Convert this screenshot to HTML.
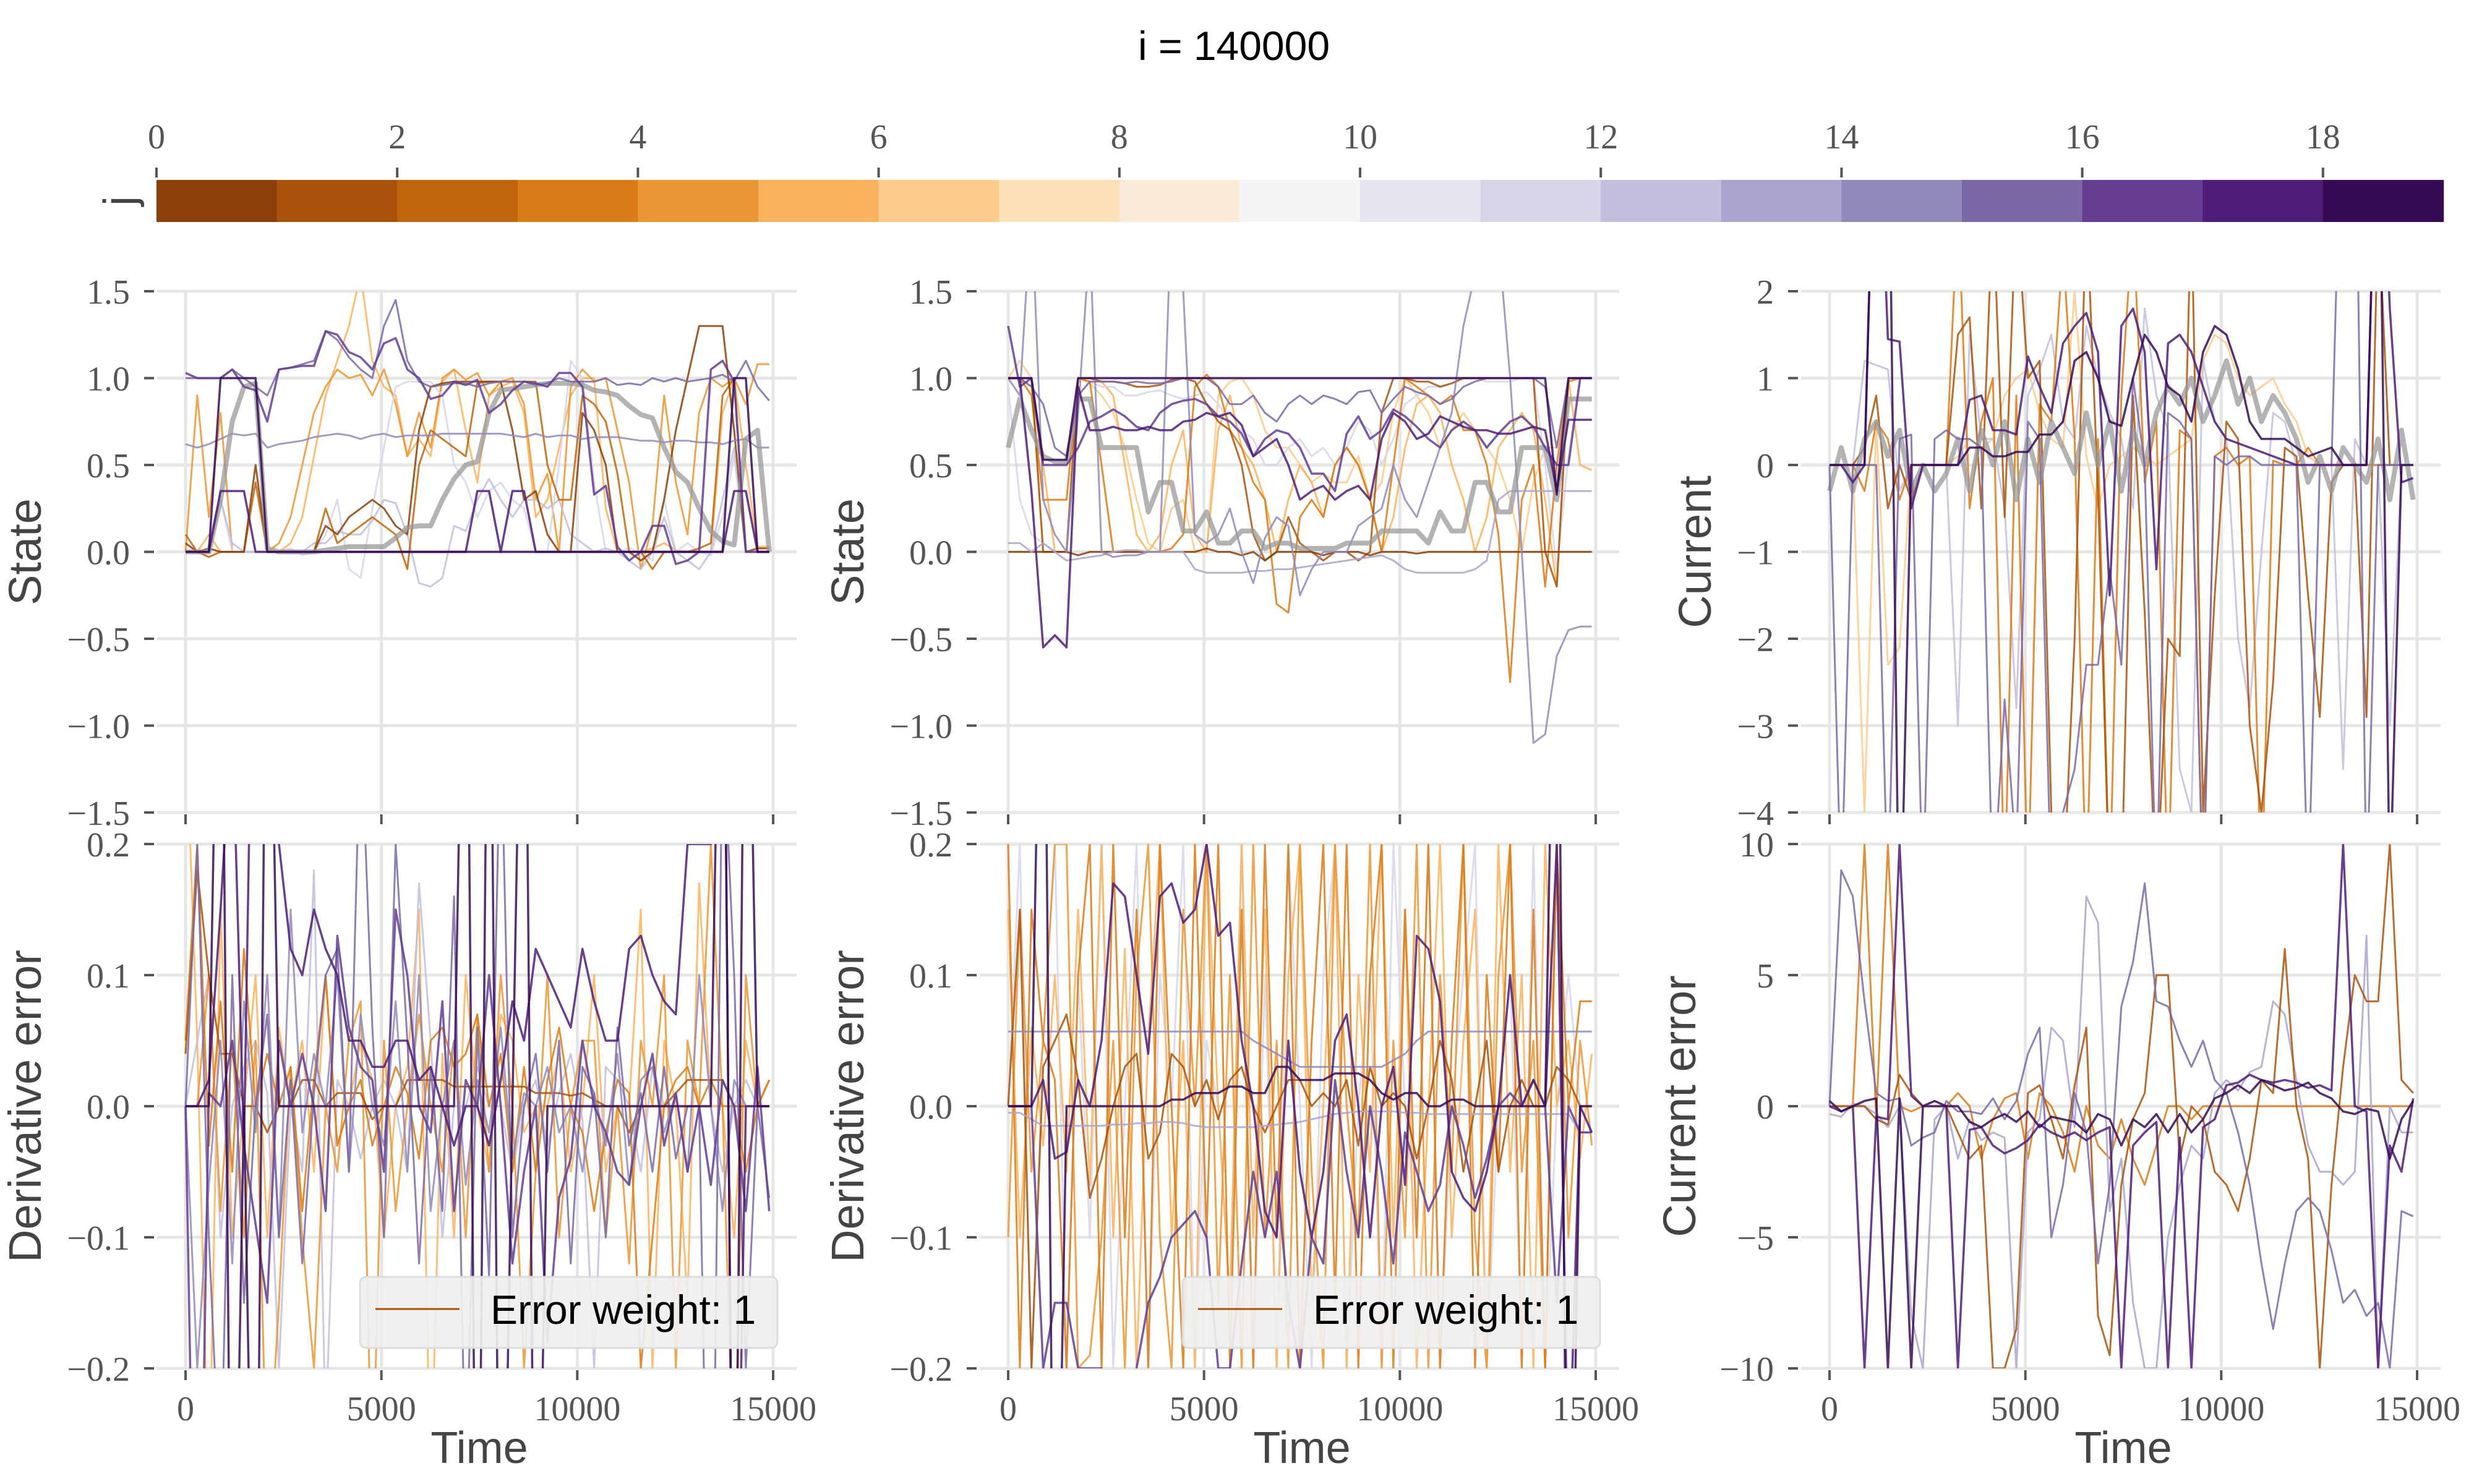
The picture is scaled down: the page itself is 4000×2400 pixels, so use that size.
<!DOCTYPE html>
<html><head><meta charset="utf-8"><style>
html,body{margin:0;padding:0;background:#fff;width:4000px;height:2400px;overflow:hidden;}
svg{display:block;}
</style></head><body>
<svg id="fig" xmlns="http://www.w3.org/2000/svg" width="4000" height="2400" viewBox="0 0 4000 2400" overflow="hidden">
<rect width="4000" height="2400" fill="#fff"/>
<text x="1995" y="97" font-family="Liberation Sans, sans-serif" font-size="66" text-anchor="middle" fill="#000">i = 140000</text>
<g id="cbar"></g>
<g id="panels"></g>
</svg>
<script>
// ---- colorbar data ----
const cbarValues = [0,1,2,3,4,5,6,7,8,9,10,11,12,13,14,15,16,17,18];
const cbarTickLabels = [0,2,4,6,8,10,12,14,16,18];
const jColors = ['#8B4009','#A9530A','#BF650C','#D97B17','#EA9634','#F9B35E','#FDCB8C','#FDE0B6','#FAEBD8','#F5F5F5','#E6E5F0','#D7D6E9','#C3BEDD','#ABA4CD','#9289BA','#7B68A6','#633E93','#4F1C78','#370A56'];
const xTickValues = [0,5000,10000,15000];

// ---- Panel 1: State (left) ----
const p1_gray = [0,0,0,0.3,0.75,0.95,0.97,0.02,0,0,0,0,0.01,0.02,0.03,0.03,0.03,0.03,0.08,0.14,0.15,0.15,0.3,0.42,0.5,0.52,0.8,0.93,0.94,0.95,0.96,0.97,0.97,0.97,0.96,0.93,0.92,0.9,0.84,0.79,0.77,0.6,0.46,0.4,0.25,0.12,0.06,0.04,0.65,0.7,0];
const p1_j18 = [0,0,0,1,1,1,1,0,0,0,0,0,0,0,0,0,0,0,0,0,0,0,0,0,0,0,0,0,0,0,0,0,0,0,0,0,0,0,0,0,0,0,0,0,0,0,0,1,1,0,0];
const p1_j17 = [0,0,0,0.35,0.35,0.35,0,0,0,0,0,0,0,0,0,0,0,0,0,0,0,0,0,0,0,0.35,0.35,0,0.35,0.35,0,0,0,0,0,0,0,0,0,0,0,0,0,0,0,0,0,0.35,0.35,0,0];
const p1_j16 = [1.03,1.0,1.0,1.0,1.05,0.95,0.93,0.75,1.05,1.06,1.07,1.07,1.27,1.25,1.15,1.12,1.05,1.2,1.23,1.05,1.0,0.88,0.9,0.98,0.96,0.99,0.8,0.85,0.93,0.98,0.97,0.95,1.03,1.03,0.95,0.33,0.38,0.03,-0.05,0.0,0.15,0.15,-0.07,-0.05,0.0,1.05,1.1,0.98,0.0,0.0,0.0];
const p1_j15 = [1.0,1.0,1.0,1.0,1.05,1.0,0.95,0.9,1.05,1.06,1.08,1.1,1.27,1.22,1.12,1.05,1.0,1.3,1.45,1.1,0.98,0.95,0.96,0.97,0.97,0.95,0.97,0.98,0.98,0.98,0.96,0.97,1.0,0.98,0.98,0.98,1.0,0.96,0.97,0.96,1.0,0.98,1.0,0.98,0.99,1.0,1.02,0.98,1.1,0.95,0.87];
const p1_j14 = [0.62,0.6,0.62,0.65,0.68,0.67,0.68,0.6,0.62,0.63,0.64,0.66,0.67,0.68,0.67,0.65,0.67,0.68,0.66,0.67,0.67,0.67,0.68,0.68,0.68,0.68,0.68,0.68,0.67,0.66,0.68,0.66,0.67,0.67,0.65,0.66,0.66,0.66,0.65,0.64,0.64,0.63,0.64,0.64,0.63,0.63,0.62,0.64,0.65,0.6,0.6];
const p1_j0 = [0.05,0.0,0.02,0.0,0.0,0.0,0.5,0.0,0.0,0.0,0.0,0.0,0.15,0.1,0.2,0.25,0.3,0.25,0.15,0.1,0.7,0.95,0.97,0.98,0.98,0.98,0.98,0.98,0.7,0.3,0.35,0.1,0.0,0.0,0.8,0.7,0.5,0.0,0.0,-0.05,0.0,0.3,0.7,1.0,1.3,1.3,1.3,0.7,0.0,0.02,0.02];
const p1_j2 = [0.1,0.0,-0.03,0.0,0.0,0.0,0.4,0.0,0.0,0.0,0.0,0.0,0.25,0.05,0.1,0.15,0.2,0.15,0.1,-0.1,0.5,0.7,0.65,0.6,0.55,0.97,0.98,0.98,0.98,0.98,0.98,0.5,0.3,0.3,0.9,0.85,0.75,0.45,0.0,0.0,-0.1,0.0,0.0,0.0,0.02,0.05,0.9,1.0,0.0,0.0,0.0];
const p1_j4 = [0.0,0.9,0.2,0.8,0.0,0.0,0.0,0.0,0.05,0.2,0.5,0.8,0.95,1.05,1.0,1.02,0.9,1.05,0.85,0.55,0.8,0.6,1.0,1.05,0.99,1.03,0.9,0.98,1.0,0.85,0.3,0.45,0.0,0.95,1.05,0.98,1.0,0.7,0.4,-0.1,0.15,0.9,0.4,0.1,0.8,1.0,0.95,1.0,0.85,1.08,1.08];
const p1_j5 = [0.0,0.0,0.1,0.0,0.0,0.0,0.0,0.0,0.0,0.05,0.2,0.55,0.9,1.1,1.3,1.6,1.1,0.95,0.9,0.55,0.65,0.55,0.98,1.05,0.7,0.4,0.9,0.95,0.98,0.8,0.2,0.3,0.6,0.9,1.0,1.0,0.25,0.0,0.0,0.0,0.02,0.05,0.01,0.0,0.0,0.0,0.8,1.0,0.5,0.03,0.03];
const p1_j11 = [0.0,0.0,0.02,0.3,0.0,0.0,0.0,0.0,0.0,0.02,-0.02,0.0,0.1,0.3,-0.1,-0.15,0.25,0.6,0.95,0.98,0.98,0.98,0.9,0.5,0.4,0.2,0.35,0.4,0.3,0.25,0.0,0.0,0.5,1.1,1.0,0.4,0.0,0.0,0.02,0.0,-0.05,0.3,0.0,0.05,0.0,-0.02,0.2,0.55,0.0,0.0,0.0];
const p1_j12 = [0,0,0,0.3,0.05,0,0,0,0,0,0,0.05,0.05,0.12,0.1,0.1,0.18,0.3,0.28,0.1,-0.18,-0.2,-0.15,0.15,0.12,0.3,0.42,0.3,0.2,0.3,0.3,0.25,0.3,0.1,0.05,0,0.02,0.0,-0.05,-0.1,0,0.2,0,-0.05,-0.1,0,0.3,0.6,0,0,0];

// ---- Panel 2: State (middle) ----
const p2_gray = [0.6,0.88,0.7,0.55,0.52,0.52,0.88,0.88,0.6,0.6,0.6,0.6,0.23,0.4,0.4,0.12,0.12,0.23,0.05,0.05,0.12,0.12,0.02,0.05,0.05,0.02,0.02,0.02,0.02,0.05,0.05,0.05,0.12,0.12,0.12,0.12,0.05,0.23,0.12,0.12,0.4,0.4,0.23,0.23,0.6,0.6,0.6,0.3,0.88,0.88,0.88];
const p2_j18 = [1,1,1,0.53,0.53,0.53,1,1,1,1,1,1,1,1,1,1,1,1,1,1,1,1,1,1,1,1,1,1,1,1,1,1,1,1,1,1,1,1,1,1,1,1,1,1,1,1,1,0.33,1,1,1];
const p2_j17 = [1.0,1.0,0.35,-0.55,-0.48,-0.55,0.95,0.7,0.7,0.72,0.7,0.7,0.72,0.7,0.7,0.75,0.76,0.8,0.78,0.8,0.73,0.55,0.6,0.65,0.5,0.3,0.35,0.38,0.3,0.35,0.38,0.3,0.65,0.8,0.75,0.65,0.68,0.78,0.75,0.72,0.7,0.7,0.68,0.68,0.7,0.72,0.7,0.35,0.76,0.76,0.76];
const p2_j16 = [1.3,0.95,1.0,0.5,0.5,0.5,0.6,0.75,0.78,0.82,0.78,0.72,0.7,0.8,0.85,0.87,0.88,0.85,0.78,0.75,0.68,0.55,0.65,0.7,0.68,0.6,0.45,0.45,0.35,0.68,0.78,0.65,0.7,0.82,0.78,0.72,0.65,0.6,0.7,0.75,0.7,0.6,0.68,0.75,0.78,0.72,0.6,0.5,0.5,1.0,1.0];
const p2_j15 = [1.0,1.0,0.95,0.85,0.6,0.55,0.9,0.98,0.98,0.98,0.97,0.98,0.97,0.97,0.98,1.0,1.0,1.0,0.95,0.85,0.85,0.9,0.8,0.75,0.85,0.9,0.85,0.9,0.88,0.85,0.92,0.93,0.8,0.88,0.95,0.92,0.9,0.85,0.88,0.95,0.98,1.0,1.0,1.0,1.0,1.0,0.95,0.6,1.0,1.0,1.0];
const p2_j14 = [1.0,0.9,2.0,0.3,0.1,0.0,0.8,1.8,0.0,-0.03,-0.02,-0.02,0.0,0.0,2.0,1.5,0.1,0.05,0.1,0.25,0.0,-0.18,0.08,0.2,0.15,-0.25,-0.1,0.0,0.0,0.0,0.15,0.2,0.25,0.5,0.3,0.2,0.4,0.6,0.8,1.3,1.6,1.9,1.8,1.0,0.0,-1.1,-1.05,-0.6,-0.45,-0.43,-0.43];
const p2_j13 = [0.05,0.05,0.0,0.05,0.0,-0.05,-0.04,-0.03,-0.02,0,0.01,0.01,0.0,0.0,0.0,0.0,-0.1,-0.12,-0.12,-0.12,-0.12,-0.11,-0.11,-0.1,-0.1,-0.09,-0.08,-0.07,-0.06,-0.05,-0.04,-0.03,-0.02,-0.05,-0.1,-0.12,-0.12,-0.12,-0.12,-0.12,-0.1,-0.05,0.3,0.35,0.35,0.35,0.35,0.35,0.35,0.35,0.35];
const p2_j0 = [0.0,0.0,0.0,0.0,0.0,0.0,-0.02,0.0,0.0,0.0,0.0,0.0,0.0,0.0,0.0,0.0,0.0,0.02,0.0,0.0,-0.02,0.0,-0.05,0.0,0.0,0.0,0.0,-0.02,0.0,0.0,0.0,-0.02,0.0,0.0,0.0,-0.01,0.0,0.0,0.0,0.0,0.0,0.0,0.0,0.0,0.0,0.0,0.0,0.0,0.0,0.0,0.0];
const p2_j1 = [1.0,1.0,1.0,0.0,0.0,0.0,1.0,1.0,0.98,0.98,0.97,0.95,0.95,0.96,0.99,1.0,0.98,0.85,0.75,0.7,0.5,0.1,-0.05,0.0,0.2,0.05,0.0,-0.05,0.0,0.0,-0.05,0.0,0.8,1.0,1.0,0.98,0.98,0.95,0.97,1.0,1.0,1.0,1.0,1.0,1.0,1.0,0.0,-0.2,1.0,1.0,1.0];
const p2_j3 = [1.0,1.0,0.9,0.3,0.3,0.3,1.0,0.98,0.5,0.0,0.0,0.0,0.0,0.0,0.02,0.1,0.95,1.02,0.95,0.7,0.6,0.4,0.3,-0.3,-0.35,0.2,0.3,0.2,0.5,0.6,0.5,0.3,0.0,0.5,1.0,0.95,0.9,0.85,0.9,0.7,0.7,0.5,0.1,-0.75,0.3,0.5,-0.2,0.5,0.98,1.0,1.0];
const p2_j5 = [1.0,1.0,0.95,0.5,0.0,0.0,1.0,1.0,0.98,0.9,0.5,0.1,0.0,0.1,0.5,0.7,0.1,0.0,0.7,0.9,0.6,0.5,0.3,0.0,0.3,0.5,0.4,0.2,0.5,0.6,0.5,0.3,0.0,0.2,0.6,0.85,0.9,0.8,0.5,0.3,0.0,0.2,0.6,0.7,0.8,0.7,0.3,-0.2,1.0,0.5,0.47];
const p2_j6 = [1.0,1.1,1.0,0.0,0.0,0.0,1.0,0.97,0.9,0.8,0.6,0.3,0.05,0.0,0.25,0.3,0.0,0.0,0.9,0.98,1.0,0.9,0.7,0.6,0.6,0.5,0.4,0.45,0.4,0.4,0.55,0.3,0.4,0.8,1.0,0.9,0.8,0.6,0.7,0.8,0.7,0.6,0.5,0.3,0.0,0.4,0.6,0.6,1.0,1.0,1.0];
const p2_j11 = [0.95,0.3,0.1,0.05,0.0,0.0,0.9,0.98,0.95,0.95,0.9,0.9,0.92,0.93,0.9,0.88,0.9,0.92,0.85,0.75,0.7,0.65,0.5,0.5,0.6,0.65,0.55,0.6,0.5,0.6,0.75,0.7,0.5,0.65,0.85,0.9,0.95,0.95,0.97,1.0,1.0,0.98,0.98,0.98,1.0,1.0,0.5,-0.1,0.55,1.0,1.0];

// ---- Panel 3: Current ----
const p3_gray = [-0.3,0.2,-0.3,0.3,0.5,0.1,0.4,-0.3,0.0,-0.3,-0.1,0.3,-0.3,0.4,0.0,0.5,-0.4,0.3,-0.2,0.5,0.2,-0.1,0.6,0.0,0.5,-0.3,0.4,0.0,0.6,0.9,0.7,1.0,0.5,0.8,1.2,0.7,1.0,0.5,0.8,0.6,0.3,-0.2,0.1,-0.3,0.2,0.0,-0.2,0.3,-0.4,0.4,-0.4];
const p3_j18 = [0,0,0,0,5,5,-6,0,0,0,0,0,0.2,0.2,0.1,0.1,0.15,0.15,0.35,0.35,0.5,1.2,1.3,1.0,0.5,0.45,1.0,1.5,1.3,0.9,0.8,0.5,1.3,1.6,1.5,1.1,0.5,0.3,0.3,0.3,0.2,0.1,0.15,0.2,0,0,0,5,-5,0,0];
const p3_j17 = [0,0,-0.2,0,5,1.45,1.42,-0.5,0,0,0,0,0.75,0.8,0.4,0.4,0.35,1.25,0.9,0.6,1.4,1.6,1.75,1.3,-1.5,1.6,1.8,1.3,-1.2,1.4,1.5,1.3,0.9,0.5,0.3,0.25,0.2,0.15,0.1,0.05,0.0,0.0,0.0,0.0,0,0,0,5,1.8,-0.2,-0.15];
const p3_j15 = [0,-5,0,0,0,-5,0.3,0.35,-5,0.3,0.4,0.3,0.3,0.2,-5,-2.7,-4.5,0.5,0.3,-5,-4,-3.5,-2.3,-2.3,-1.2,-2.3,1.0,0.0,-5,0.6,0.5,0.3,-5,0.1,0.0,0.1,0.1,0.0,0.0,0.0,0.0,-5,0,0,5,5,-5,0,0,0,0];
const p3_j1 = [0,0,0,0.2,0.8,-0.5,0,-0.4,0,0,0,1.5,1.7,-0.5,3,-0.6,3,1.0,1.2,-4,-5,-2,3,-0.3,-5,-5,0.8,-1.7,-5,-2.0,-2.2,3,-4,-1.5,0.5,0.3,-3,-4,-2.5,0.2,0.1,-1.5,-2.9,-0.2,0,0,-2.9,3,0,0,0];
const p3_j3 = [0,0,0,-0.3,0.5,0.3,-0.4,0.0,0,0,0,3,-0.5,0.5,1.0,-5,0.8,-5,0.7,0.5,2.5,0.3,-5,0.3,-5,0.8,2.8,-0.2,0.5,-5,0.4,0.3,-5,0.1,0.2,0.0,0.1,-5,0.05,0.0,0.0,0.2,0.0,0.0,0,0,0,0,0,0,0];
const p3_j6 = [0,0,0,-4,0.5,-2.3,-2.1,0,0,0,0,0.1,0.3,0.2,0.3,0.8,1.0,1.1,0.6,0.3,0.2,2.0,0.1,-0.5,0.0,0.1,0.2,0.1,0.0,0.1,0.2,0.3,1.2,1.5,1.4,1.0,0.8,0.9,1.0,0.7,0.5,0.1,0.0,0.0,0,0,0,0,0,0,0];
const p3_j12 = [0,0,0,1.2,1.15,1.1,-0.3,0,0,0,0,-3,1.5,0.3,0.3,-0.5,-2.8,0.8,1.1,1.5,0.5,0.3,1.6,1.0,0.6,0.3,-0.5,1.8,0.8,0.4,-3.5,-4,1.2,0.5,0.3,-2,-2.8,-1,0.6,0.5,0,0,0,0,-3.5,0.3,0,0,-3,0,0];

// ---- Panel 4: Derivative error (left) ----
const p4_j18 = [0,0,0,0.5,-0.5,0,-0.5,0.5,0,0,0,0,0,0,0,0,0,0,0,0,0,0,0,0,0.5,-0.5,0.5,-0.5,0,0.5,-0.5,0,0,0,0,0,0,0,0,0,0,0,0,0,0,0,0.5,-0.5,0.5,0,0];
const p4_j17 = [0.0,0.0,0.02,0.15,0.3,-0.03,0.5,0.3,0.2,0.12,0.1,0.15,0.12,0.1,0.05,0.05,0.03,0.03,0.05,0.05,0.02,0.03,0.0,-0.03,0.0,0.0,-0.03,0.02,0.08,0.05,0.12,0.1,0.08,0.06,0.12,0.08,0.05,0.05,0.12,0.13,0.1,0.08,0.07,0.2,0.2,0.2,0.5,-0.5,0.0,0.0,0.0];
const p4_j16 = [0.0,-0.5,0.01,0.0,0.05,-0.03,-0.09,-0.15,0.05,0.0,0.04,0.0,-0.08,0.13,0.06,0.03,0.02,-0.05,0.15,0.1,0.0,-0.02,0.08,-0.08,0.02,0.0,0.1,0.0,-0.12,-0.05,0.0,-0.18,-0.07,-0.04,0.05,0.0,-0.02,-0.05,-0.06,0.0,0.04,-0.03,0.01,-0.05,0.0,-0.06,0.02,0.0,-0.08,0.03,-0.08];
const p4_j15 = [0.0,0.2,-0.1,-0.3,0.1,-0.15,0.0,0.07,-0.1,0.02,-0.12,0.01,0.1,0.12,-0.05,0.3,0.06,-0.1,0.2,0.05,-0.12,0.03,-0.08,0.16,-0.3,0.06,-0.13,0.3,-0.1,0.0,0.04,-0.05,0.05,-0.12,0.03,0.01,-0.1,0.06,-0.03,0.01,-0.05,0.03,-0.04,0.0,0.0,-0.5,0.3,0.1,-0.2,0.0,-0.07];
const p4_j14 = [0.0,-0.2,-0.06,0.05,-0.12,0.08,-0.02,0.1,-0.1,0.15,-0.02,0.04,0.0,0.1,-0.05,0.07,0.0,-0.03,0.08,-0.05,0.1,-0.08,0.0,0.05,-0.06,0.02,-0.02,0.06,-0.04,0.01,0.0,0.03,-0.02,0.0,-0.05,0.01,-0.03,0.04,-0.06,0.02,0.03,-0.02,0.01,-0.05,0.1,0.0,-0.08,0.02,0.0,0.0,0.0];
const p4_j12 = [0.0,0.05,0.1,-0.1,0.0,0.03,0.05,0.01,-0.2,0.0,-0.05,0.18,-0.25,0.02,0.0,-0.04,0.0,0.02,0.0,-0.05,0.17,0.05,-0.1,0.0,0.0,0.03,0.0,0.0,-0.05,0.0,0.02,-0.03,0.01,0.04,-0.01,-0.2,0.03,0.02,0.0,-0.05,0.03,0.0,0.0,0.0,0.0,0.0,-0.05,0.0,0.02,0.0,0.0];
const p4_j3 = [0.05,0.2,-0.03,0.08,-0.05,0.12,0.0,0.04,0.0,0.03,-0.08,0.02,0.1,-0.03,0.0,0.02,-0.03,0.0,0.03,0.01,-0.04,0.05,0.06,0.03,0.04,0.07,0.0,0.04,-0.05,0.03,-0.05,0.02,0.06,0.0,-0.02,-0.08,-0.02,0.02,0.01,-0.2,-0.1,0.0,0.02,0.03,0.0,0.02,0.0,0.0,-0.05,0.0,0.02];
const p4_j4 = [0.0,0.0,0.1,-0.08,0.05,-0.1,0.05,-0.3,-0.15,0.03,-0.1,-0.2,0.0,-0.05,0.05,0.08,-0.3,0.05,-0.08,0.0,0.07,0.0,-0.05,0.05,-0.1,0.07,-0.05,0.1,0.0,-0.2,-0.05,0.1,-0.1,0.0,0.05,0.05,-0.1,0.0,-0.12,0.05,0.0,0.1,-0.2,0.05,0.0,0.2,0.0,-0.3,0.1,0.0,0.02];
const p4_j5 = [0.3,0.05,-0.3,0.15,-0.1,0.0,0.1,-0.1,0.06,0.0,0.05,-0.05,0.1,-0.03,0.0,0.05,0.02,-0.1,0.0,0.03,0.15,-0.3,0.04,-0.1,0.1,0.0,-0.05,0.07,0.05,-0.02,0.0,0.0,0.04,-0.05,0.0,0.1,-0.05,0.0,0.0,0.15,-0.2,0.05,0.0,-0.15,0.17,0.0,0.0,-0.1,0.05,0.0,0.0];
const p4_j1 = [0.04,0.18,0.1,0.04,0.04,0.0,0.0,-0.02,0.0,0.0,0.02,0.02,0.0,0.01,0.01,0.01,-0.01,0.0,0.0,0.02,0.02,0.02,0.02,0.015,0.015,0.015,0.015,0.015,0.015,0.015,0.01,0.01,0.01,0.008,0.01,0.005,0.0,0.0,-0.02,0.0,0.0,0.0,0.01,0.02,0.02,0.02,0.02,0.0,0.0,0.0,0.0];

// ---- Panel 5: Derivative error (middle) ----
const p5_j16 = [0.0,0.0,0.0,-0.2,-0.15,-0.15,-0.2,-0.2,-0.2,-0.22,-0.25,-0.2,-0.15,-0.13,-0.1,-0.09,-0.08,-0.1,-0.2,-0.2,-0.12,-0.05,-0.1,-0.05,-0.15,-0.2,-0.1,-0.12,0.02,-0.05,-0.1,0.0,-0.05,-0.12,-0.02,-0.05,-0.08,-0.06,0.0,-0.03,-0.07,-0.04,0.0,0.01,0.0,0.02,0.0,-0.15,0.0,-0.02,-0.02];
const p5_j17 = [0.0,0.0,0.0,0.02,-0.04,-0.035,0.02,0.0,0.05,0.17,0.16,0.1,0.04,0.16,0.17,0.14,0.15,0.2,0.13,0.14,0.05,0.0,-0.08,-0.1,0.05,-0.05,-0.1,-0.05,0.05,0.07,0.0,-0.1,0.0,0.03,-0.06,0.13,0.12,0.08,-0.05,-0.07,-0.08,-0.05,0.0,0.1,0.0,0.02,0.0,0.2,-0.3,0.0,-0.02];
const p5_j18 = [0,0,0,0.5,-0.5,0,0,0,0,0,0,0,0,0.0,0.005,0.005,0.01,0.01,0.01,0.015,0.015,0.01,0.01,0.03,0.03,0.02,0.02,0.02,0.025,0.025,0.025,0.02,0.01,0.005,0.01,0.01,0.0,0.0,0.005,0.005,0.0,0.0,0.0,0.0,0.0,0.0,0.0,0.5,-0.5,0.0,0.0];
const p5_j14 = [0.057,0.057,0.057,0.057,0.057,0.057,0.057,0.057,0.057,0.057,0.057,0.057,0.057,0.057,0.057,0.057,0.057,0.057,0.057,0.057,0.057,0.05,0.045,0.04,0.035,0.03,0.03,0.03,0.03,0.03,0.03,0.03,0.03,0.035,0.04,0.05,0.057,0.057,0.057,0.057,0.057,0.057,0.057,0.057,0.057,0.057,0.057,0.057,0.057,0.057,0.057];
const p5_j13 = [-0.005,-0.005,-0.01,-0.015,-0.015,-0.015,-0.015,-0.015,-0.015,-0.014,-0.014,-0.013,-0.013,-0.012,-0.012,-0.013,-0.015,-0.016,-0.016,-0.016,-0.016,-0.016,-0.015,-0.014,-0.013,-0.012,-0.01,-0.008,-0.006,-0.005,-0.004,-0.004,-0.004,-0.004,-0.005,-0.005,-0.006,-0.006,-0.006,-0.006,-0.006,-0.006,-0.006,-0.006,-0.006,-0.006,-0.006,-0.006,-0.006,-0.02,-0.02];
const p5_j3 = [0.2,-0.2,0.15,0.05,0.02,-0.2,0.1,0.2,-0.2,0.2,-0.1,0.15,-0.2,0.2,0.0,-0.2,0.2,-0.1,0.2,-0.2,0.15,-0.2,0.2,-0.1,0.2,-0.2,0.05,0.2,-0.15,0.2,-0.2,0.1,0.2,-0.2,0.15,-0.1,0.2,-0.2,0.05,0.2,-0.2,0.1,-0.05,0.2,-0.2,0.15,-0.2,0.2,0.0,0.08,0.08];
const p5_j4 = [-0.1,0.15,-0.05,0.05,0.2,0.2,-0.2,-0.19,-0.1,0.05,-0.2,0.1,0.2,-0.1,-0.2,0.15,0.0,0.2,-0.15,0.1,-0.2,0.2,-0.1,0.05,-0.2,0.2,-0.05,-0.2,0.2,0.0,-0.1,0.2,-0.2,0.05,-0.1,0.2,-0.2,0.1,-0.05,0.2,-0.1,-0.2,0.1,0.2,-0.05,0.05,-0.2,0.2,-0.1,0.05,-0.03];
const p5_j5 = [0.15,-0.1,0.06,-0.03,0.1,-0.05,0.15,-0.06,0.2,-0.1,0.12,-0.2,0.05,0.2,-0.1,0.05,-0.2,0.2,0.0,-0.15,0.2,-0.1,0.15,-0.2,0.1,0.2,-0.15,0.0,0.2,-0.2,0.1,-0.05,0.2,-0.1,0.15,-0.2,0.0,0.2,-0.1,0.05,0.15,-0.2,0.2,-0.05,0.1,-0.2,0.2,0.0,0.05,-0.04,0.04];
const p5_j1 = [0.0,0.15,-0.2,0.03,0.05,0.07,0.02,-0.07,-0.04,0.0,0.03,0.04,-0.04,-0.02,0.04,0.03,0.0,0.02,-0.01,0.02,0.03,0.0,-0.02,0.0,0.02,0.02,0.0,0.01,0.0,0.02,-0.03,0.03,0.0,0.01,0.0,-0.04,0.0,0.05,0.02,-0.05,0.0,0.05,-0.05,0.0,0.02,0.0,0.0,0.03,0.02,0.0,0.0];
const p5_j11 = [0.0,0.2,-0.2,0.05,0.2,-0.2,0.1,-0.1,0.2,-0.2,0.0,0.2,-0.2,0.1,0.0,0.2,-0.2,0.05,0.0,-0.15,0.2,-0.2,0.1,-0.2,0.2,0.0,-0.2,0.1,0.2,-0.2,0.0,0.1,-0.2,0.2,0.0,-0.1,0.2,-0.2,0.0,0.1,0.2,-0.2,0.0,0.1,-0.2,0.2,-0.2,0.0,0.1,0.0,0.0];

// ---- Panel 6: Current error ----
const p6_j18 = [0.2,-0.2,0.0,0.2,0.3,-10,0.3,-10,0.0,0.2,0.0,0.0,-0.6,-0.8,-0.5,-0.3,-0.6,-0.2,-0.8,-0.4,-0.5,-0.6,-1.0,-0.3,-0.5,-1.5,-0.5,-0.8,-0.3,-1.0,-0.3,-1.0,-0.5,0.3,0.5,0.8,0.5,1.0,0.8,0.6,0.7,0.9,0.5,0.3,-0.2,-0.3,-0.1,-0.2,-2.0,-0.5,0.2];
const p6_j17 = [0,-0.2,0.0,-10,-0.4,-0.5,10,0.4,0.0,0.0,0.0,-10,-0.9,-0.8,-1.5,-1.8,-1.6,-1.3,-0.7,-1.0,-1.2,-1.0,-1.3,-1.0,-0.8,-10,-1.5,-1.0,-0.6,-10,-1.2,-10,-0.8,-0.5,0.8,0.9,1.2,1.0,0.9,1.0,0.9,0.7,0.8,0.6,10,0.0,-0.2,-10,-1.5,-2.5,0.3];
const p6_j15 = [0.0,9,8,4,0.5,0.2,0.3,-1.5,-1.2,-1.0,0.2,-0.2,-0.2,-0.3,0.3,-0.5,0.2,2.0,3.0,-5.0,-3,0.5,-1.0,-6,-3,3.8,5.5,8.5,4.0,3.8,2.5,1.5,2.5,1.0,0.5,-1.0,-3.0,-6.0,-8.5,-6.0,-4.0,-3.5,-4.0,-5.5,-7.5,-7.0,-8.0,-7.5,-10,-4.0,-4.2];
const p6_j13 = [-0.3,-0.4,0.1,0.0,-0.3,-0.8,0.0,-8,-10,-0.5,0.0,-2,-0.5,-1.3,-1.0,-1.2,-10,-1.0,-0.5,3.0,2.5,-0.8,8,7,-4,-2,-7.5,-10,-10,-5,-3,-1.5,-2.0,0.5,1.0,0.6,1.3,1.5,4.0,3.5,1.0,-1.5,-2.5,-2.5,-3.0,-2.5,6.5,-10,0.0,-1.0,-1.0];
const p6_j1 = [0.0,0.0,0.0,0.0,-0.5,-0.7,1.2,0.5,0.0,0.0,0.0,-1.0,-2.0,-1.5,-10,-10,-8.5,0.5,0.8,-0.5,-2.0,0.8,3.0,-8.0,-9.5,-3.0,-0.5,0.5,5.0,5.0,-2.0,0.0,-0.5,-2.5,-3.0,-4.0,-2.0,1.0,0.5,6.0,0.0,-2.0,-10,-3.0,1.5,5.0,4.0,4.0,10,1.0,0.5];
const p6_j3 = [0,0,0,10,-0.5,10,0.0,-0.2,0,0,0,0.5,0.0,-2.0,-0.5,0.3,0.5,-2.0,0.5,0.0,-1.0,-2.5,0.0,-1.5,-2.0,-0.5,-2.0,-3.0,-1.5,0.0,0.0,-0.5,0,0,0,0,0,0,0,0,0,0,0,0,0,0,0,0,0,0,0];

// ---- layout ----
const NS = 'http://www.w3.org/2000/svg';
const svg = document.getElementById('fig');
function mk(tag, attrs, parent){ const e=document.createElementNS(NS,tag); for(const k in attrs) e.setAttribute(k,attrs[k]); (parent||svg).appendChild(e); return e; }
const sampleTimes = []; for(let k=0;k<51;k++) sampleTimes.push(k*298);

// colorbar
const cb = document.getElementById('cbar');
const cbX = v => 253 + v*194.6;
cbarValues.forEach(v => {
  const r = mk('rect',{x:cbX(v),y:291,width:195.4,height:68,fill:jColors[v]},cb);
  
  
});
cbarTickLabels.forEach(v => {
  const l = mk('line',{x1:cbX(v),x2:cbX(v),y1:271,y2:287,stroke:'#555','stroke-width':4},cb);
  
  
  const t = mk('text',{x:cbX(v),y:240,'text-anchor':'middle','font-family':'Liberation Serif, serif','font-size':56,fill:'#555'},cb);
  t.textContent = v;
  
  
});
const jl = mk('text',{x:0,y:0,transform:'translate(218,325) rotate(-90)','text-anchor':'middle','font-family':'Liberation Sans, sans-serif','font-size':72,fill:'#444'},cb);
jl.textContent='j';



const colX = [300,1630,2958];
const rowY = [[471,1314],[1365,2213]];
const fmtMinus = s => String(s).replace('-','\u2212');

const panels = [
  {col:0,row:0,ymin:-1.5,ymax:1.5,yticks:['-1.5','-1.0','-0.5','0.0','0.5','1.0','1.5'],label:'State',lx:-260,
   series:[[p1_j5,5],[p1_j4,4],[p1_j11,11],[p1_j12,12],[p1_j2,2],[p1_j0,0],[p1_j14,14],[p1_gray,'g'],[p1_j15,15],[p1_j16,16],[p1_j17,17],[p1_j18,18]]},
  {col:1,row:0,ymin:-1.5,ymax:1.5,yticks:['-1.5','-1.0','-0.5','0.0','0.5','1.0','1.5'],label:'State',lx:-260,
   series:[[p2_j6,6],[p2_j5,5],[p2_j11,11],[p2_j3,3],[p2_j1,1],[p2_j0,0],[p2_j13,13],[p2_j14,14],[p2_gray,'g'],[p2_j15,15],[p2_j16,16],[p2_j17,17],[p2_j18,18]]},
  {col:2,row:0,ymin:-4,ymax:2,yticks:['-4','-3','-2','-1','0','1','2'],label:'Current',lx:-218,
   series:[[p3_j6,6],[p3_j12,12],[p3_j3,3],[p3_j1,1],[p3_gray,'g'],[p3_j15,15],[p3_j17,17],[p3_j18,18]]},
  {col:0,row:1,ymin:-0.2,ymax:0.2,yticks:['-0.2','-0.1','0.0','0.1','0.2'],label:'Derivative error',lx:-260,legend:true,
   series:[[p4_j5,5],[p4_j12,12],[p4_j4,4],[p4_j3,3],[p4_j1,1],[p4_j14,14],[p4_j15,15],[p4_j16,16],[p4_j17,17],[p4_j18,18]]},
  {col:1,row:1,ymin:-0.2,ymax:0.2,yticks:['-0.2','-0.1','0.0','0.1','0.2'],label:'Derivative error',lx:-260,legend:true,
   series:[[p5_j11,11],[p5_j5,5],[p5_j4,4],[p5_j3,3],[p5_j1,1],[p5_j14,14],[p5_j13,13],[p5_j16,16],[p5_j17,17],[p5_j18,18]]},
  {col:2,row:1,ymin:-10,ymax:10,yticks:['-10','-5','0','5','10'],label:'Current error',lx:-243,
   series:[[p6_j3,3],[p6_j13,13],[p6_j1,1],[p6_j15,15],[p6_j17,17],[p6_j18,18]]}
];

const pg = document.getElementById('panels');
panels.forEach((p,pi) => {
  const x0 = colX[p.col], x1 = x0+950;
  const yt = rowY[p.row][0], yb = rowY[p.row][1];
  const xs = t => x0 + t/15000*950;
  const ys = v => yb - (v-p.ymin)/(p.ymax-p.ymin)*(yb-yt);
  const g = mk('g',{},pg);
  
  
  const cp = mk('clipPath',{id:'clip'+pi},g);
  mk('rect',{x:x0-46,y:yt,width:1034,height:yb-yt},cp);
  p.yticks.forEach(s => {
    const v = parseFloat(s), y = ys(v);
    const gl = mk('line',{x1:x0-46,x2:x1+38,y1:y,y2:y,stroke:'#e6e6e6','stroke-width':5},g);
    
    
    const tk = mk('line',{x1:x0-67,x2:x0-51,y1:y,y2:y,stroke:'#555','stroke-width':4},g);
    
    
    const tl = mk('text',{x:x0-90,y:y+20,'text-anchor':'end','font-family':'Liberation Serif, serif','font-size':56,fill:'#555'},g);
    tl.textContent = fmtMinus(s);
    
    
  });
  xTickValues.forEach(t => {
    const x = xs(t);
    const gl = mk('line',{x1:x,x2:x,y1:yt,y2:yb,stroke:'#e6e6e6','stroke-width':5},g);
    
    
    const tk = mk('line',{x1:x,x2:x,y1:yb+3,y2:yb+19,stroke:'#555','stroke-width':4},g);
    
    
    if(p.row===1){
      const tl = mk('text',{x:x,y:2297,'text-anchor':'middle','font-family':'Liberation Serif, serif','font-size':56,fill:'#555'},g);
      tl.textContent = t;
      
      
    }
  });
  const sg = mk('g',{'clip-path':'url(#clip'+pi+')'},g);
  
  
  p.series.forEach(([vals,j]) => {
    const d = vals.map((v,k)=>(k?'L':'M')+xs(sampleTimes[k]).toFixed(1)+','+ys(v).toFixed(1)).join('');
    const isG = j==='g';
    const path = mk('path',{d:d,fill:'none',stroke:isG?'#9a9a9a':jColors[j],'stroke-width':isG?8:(j>=16?3.5:3),'stroke-opacity':isG?0.75:0.85,'stroke-linejoin':'round'},sg);
    
    
  });
  const yl = mk('text',{x:0,y:0,transform:'translate('+(x0+p.lx+26)+','+((yt+yb)/2)+') rotate(-90)','text-anchor':'middle','font-family':'Liberation Sans, sans-serif','font-size':74,fill:'#444'},g);
  yl.textContent = p.label;
  
  
  if(p.row===1){
    const xl = mk('text',{x:x0+475,y:2366,'text-anchor':'middle','font-family':'Liberation Sans, sans-serif','font-size':72,fill:'#444'},g);
    xl.textContent='Time';
    
    
  }
  if(p.legend){
    const lg = mk('g',{},g);
    
    
    mk('rect',{x:x0+282,y:2065,width:675,height:115,rx:10,fill:'#efefef','fill-opacity':0.92,stroke:'#dcdcdc','stroke-width':3},lg);
    const ll = mk('line',{x1:x0+307,x2:x0+443,y1:2117,y2:2117,stroke:'#A9530A','stroke-width':3},lg);
    
    
    const lt = mk('text',{x:x0+493,y:2141,'font-family':'Liberation Sans, sans-serif','font-size':66,fill:'#000'},lg);
    lt.textContent='Error weight: 1';
    
    
  }
});
</script>
</body></html>
